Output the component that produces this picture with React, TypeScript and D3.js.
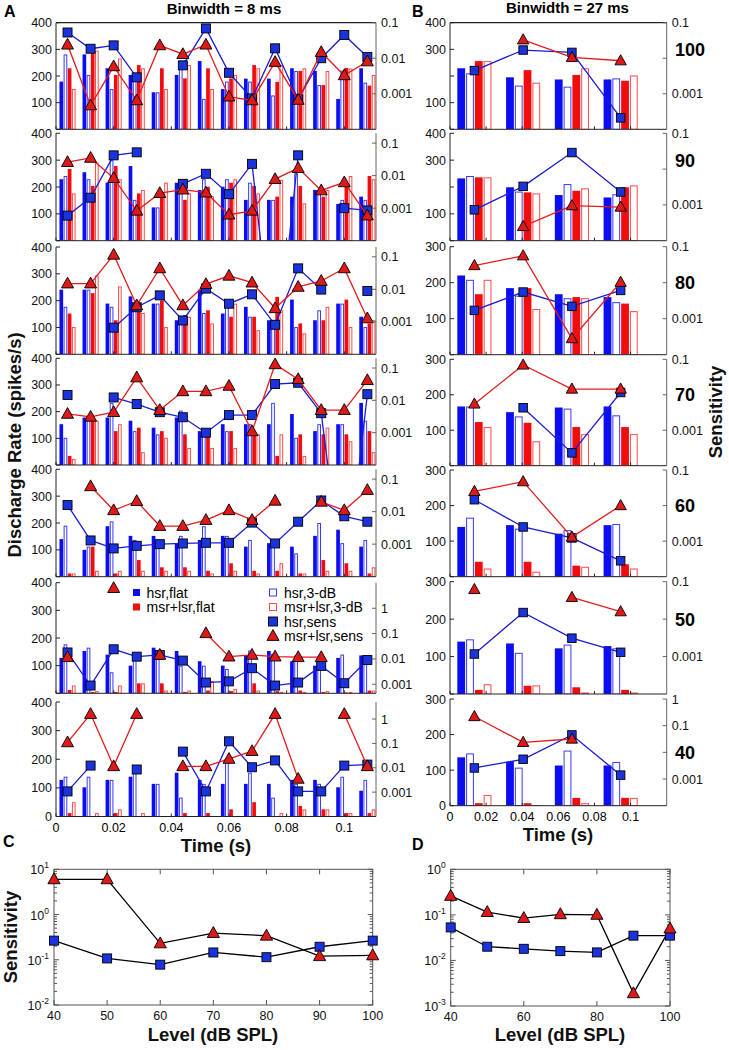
import React from "react";
import * as d3 from "d3";

const FONT = "'Liberation Sans', Arial, Helvetica, sans-serif";

// ---------------- data ----------------
const levels = ["100", "90", "80", "70", "60", "50", "40"];
const timeA = [0.004, 0.012, 0.02, 0.028, 0.036, 0.044, 0.052, 0.06, 0.068, 0.076, 0.084, 0.092, 0.1, 0.108];
const timeB = [0.0135, 0.0405, 0.0675, 0.0945];
const timeTickValues = [0, 0.02, 0.04, 0.06, 0.08, 0.1];
const timeTickLabels = ["0", "0.02", "0.04", "0.06", "0.08", "0.1"];

// Panel A (8 ms bins), rows = 100..40 dB
const aHsrFlat = [
  [179, 281, 229, 204, 139, 204, 256, 151, 190, 190, 229, 219, 114, 229],
  [229, 255, 216, 278, 124, 216, 189, 201, 152, 152, 164, 189, 137, 164],
  [241, 241, 189, 216, 189, 127, 241, 152, 177, 127, 204, 127, 189, 140],
  [153, 178, 178, 166, 140, 178, 127, 153, 153, 153, 191, 127, 153, 233],
  [140, 100, 188, 152, 152, 125, 137, 152, 112, 125, 112, 152, 175, 112],
  [128, 153, 140, 100, 165, 153, 116, 100, 137, 153, 116, 100, 128, 137],
  [128, 102, 128, 139, 114, 153, 128, 114, 114, 114, 128, 128, 102, 90],
];
const aHsr3dB = [
  [281, 204, 151, 204, 139, 240, 114, 179, 179, 127, 219, 166, 220, 175],
  [241, 229, 300, 152, 124, 216, 229, 229, 216, 152, 251, 189, 152, 152],
  [177, 241, 177, 177, 189, 127, 154, 177, 140, 127, 102, 164, 189, 102],
  [102, 178, 233, 127, 115, 204, 127, 127, 153, 233, 102, 153, 153, 166],
  [190, 112, 206, 137, 125, 152, 188, 152, 137, 125, 87, 200, 125, 137],
  [177, 165, 76, 137, 137, 100, 100, 88, 155, 143, 137, 116, 140, 137],
  [139, 139, 128, 162, 114, 66, 114, 203, 153, 66, 114, 114, 139, 128],
];
const aLsrFlat = [
  [229, 300, 204, 241, 229, 191, 229, 191, 241, 178, 219, 166, 230, 164],
  [267, 204, 278, 176, 176, 152, 201, 216, 204, 164, 204, 164, 204, 241],
  [152, 228, 127, 158, 201, 146, 164, 140, 140, 214, 115, 127, 204, 115],
  [34, 166, 127, 140, 127, 115, 115, 127, 115, 34, 115, 115, 115, 127],
  [12, 112, 12, 62, 35, 35, 22, 50, 22, 22, 12, 62, 50, 12],
  [12, 5, 5, 36, 36, 5, 10, 8, 36, 8, 10, 5, 3, 10],
  [12, 0, 12, 0, 0, 12, 12, 25, 50, 0, 37, 25, 12, 12],
];
const aLsr3dB = [
  [151, 295, 266, 229, 151, 241, 151, 204, 229, 241, 229, 219, 228, 204],
  [176, 291, 229, 189, 216, 176, 166, 229, 176, 226, 139, 189, 241, 229],
  [102, 294, 253, 154, 102, 140, 115, 189, 90, 164, 78, 177, 102, 127],
  [22, 166, 153, 48, 102, 64, 64, 64, 115, 115, 34, 140, 89, 48],
  [12, 22, 22, 22, 22, 22, 12, 22, 12, 50, 12, 22, 22, 35],
  [28, 8, 28, 36, 10, 10, 45, 15, 10, 5, 5, 8, 5, 10],
  [50, 12, 25, 12, 0, 0, 0, 0, 0, 12, 25, 25, 12, 25],
];
const aHsrSens = [
  [0.053, 0.0185, 0.023, 0.0029, null, 0.0063, 0.069, 0.0039, 0.00074, 0.019, 0.0007, 0.01, 0.045, 0.0108],
  [0.00059, 0.0021, 0.042, 0.052, null, 0.0056, 0.0114, 0.0027, 0.023, 1e-8, 0.042, null, 0.001, 0.00085],
  [null, null, 0.00066, 0.0028, 0.0065, 0.0011, 0.0105, 0.0036, 0.007, 0.00081, 0.044, 0.0098, null, 0.0089],
  [0.0147, null, 0.0123, 0.0077, 0.0043, 0.003, 0.001, 0.0035, 0.0035, 0.032, 0.035, 0.004, 1e-8, 0.0155],
  [0.0159, 0.0013, 0.00074, 0.00089, 0.001, 0.00105, 0.0011, 0.0011, 0.0046, 0.00105, 0.0049, 0.022, 0.0072, 0.0049],
  [0.018, 0.00089, 0.024, 0.0123, 0.0144, 0.0086, 0.00117, 0.0013, 0.0043, 0.00089, 0.00117, 0.0053, 0.0011, 0.0091],
  [0.00107, 0.0123, null, 0.0085, null, 0.046, 0.00107, 0.122, 0.0105, 0.02, 0.00107, 0.00107, 0.0123, 0.0135],
];
const aLsrSens = [
  [0.024, 0.00047, 0.0059, 0.00065, 0.023, 0.013, 0.024, 0.00083, 0.00065, 0.0078, 0.00067, 0.0148, 0.0033, 0.0081],
  [0.026, 0.035, 0.0084, 0.00083, 0.0029, 0.0037, 0.003, 0.00063, 0.00083, 0.0078, 0.017, 0.0035, 0.0062, 0.00059],
  [0.015, 0.015, 0.115, 0.0032, 0.044, 0.0032, 0.0144, 0.026, 0.016, 0.0026, 0.0118, 0.018, 0.044, 0.00127],
  [0.0038, 0.0031, 0.0043, 0.051, 0.005, 0.019, 0.019, 0.028, 0.0011, 0.13, 0.045, 0.005, 0.005, 0.042],
  [null, 0.06, 0.011, 0.021, 0.0036, 0.0036, 0.0055, 0.011, 0.0055, 0.0215, null, 0.02, 0.011, 0.046],
  [0.0117, null, 6.2, null, 0.0144, null, 0.103, 0.0123, 0.0144, 0.0123, 0.0117, 0.0117, null, null],
  [0.11, 1.6, 0.0115, 1.6, null, 0.0115, 0.0115, 0.023, 0.048, 1.6, 0.0035, null, 1.6, 0.0115],
];

// Panel B (27 ms bins)
const bHsrFlat = [
  [229, 195, 187, 187], [232, 199, 170, 161], [220, 185, 168, 160], [167, 151, 164, 167],
  [140, 145, 121, 145], [140, 135, 122, 128], [136, 124, 113, 113],
];
const bHsr3dB = [
  [210, 164, 160, 191], [241, 183, 211, 173], [208, 164, 157, 146], [167, 139, 161, 142],
  [166, 135, 131, 148], [146, 110, 132, 122], [147, 107, 155, 123],
];
const bLsrFlat = [
  [256, 222, 204, 182], [236, 180, 186, 199], [168, 185, 160, 142], [123, 121, 109, 109],
  [42, 42, 31, 35], [11, 22, 18, 11], [7, 7, 22, 22],
];
const bLsr3dB = [
  [256, 175, 229, 202], [236, 176, 195, 206], [208, 127, 157, 121], [109, 69, 89, 89],
  [23, 14, 28, 23], [26, 23, 4, 4], [30, 2, 7, 22],
];
const bHsrSens = [
  [0.0045, 0.017, 0.0146, 0.00021], [0.00073, 0.0033, 0.029, 0.0023], [0.0017, 0.0055, 0.0022, 0.0061],
  [null, 0.0043, 0.00023, 0.0116], [0.0146, 0.0025, 0.00123, 0.00028], [0.00117, 0.015, 0.0031, 0.0013],
  [0.0026, 0.0055, 0.045, 0.0014],
];
const bLsrSens = [
  [null, 0.033, 0.0105, 0.0085], [null, 0.00025, 0.00095, 0.00087], [0.03, 0.056, 0.00028, 0.0103],
  [0.0055, 0.069, 0.0145, 0.0145], [0.025, 0.047, 0.0013, 0.01], [0.062, null, 0.038, 0.0158],
  [0.22, 0.0237, 0.0316, null],
];

// Panels C, D
const levelAxis = [40, 50, 60, 70, 80, 90, 100];
const cHsr = [0.265, 0.107, 0.078, 0.145, 0.114, 0.194, 0.265];
const cLsr = [6.0, 6.0, 0.23, 0.39, 0.34, 0.12, 0.125];
const dHsr = [0.053, 0.02, 0.018, 0.016, 0.015, 0.035, 0.035];
const dLsr = [0.26, 0.115, 0.085, 0.103, 0.1, 0.0019, 0.05];
const cXTicks = [40, 50, 60, 70, 80, 90, 100];
const dXTicks = [40, 60, 80, 100];
const cYExp = [1, 0, -1, -2];
const dYExp = [0, -1, -2, -3];

// axis configuration
const aLeftLabels = [[400, 300, 200, 100], [400, 300, 200, 100], [400, 300, 200, 100], [400, 300, 200, 100], [400, 300, 200, 100], [400, 300, 200, 100], [400, 300, 200, 100, 0]];
const aRightDomains = [[1e-4, 0.1], [1e-4, 0.2], [1e-4, 0.2], [1e-4, 0.2], [1e-4, 0.2], [4.4e-4, 10.2], [1e-4, 5]];
const aRightLabels = [[0.1, 0.01, 0.001], [0.1, 0.01, 0.001], [0.1, 0.01, 0.001], [0.1, 0.01, 0.001], [0.1, 0.01, 0.001], [1, 0.1, 0.01, 0.001], [1, 0.1, 0.01, 0.001]];
const bLeftMax = [400, 400, 300, 300, 300, 300, 300];
const bLeftLabels = [[400, 300, 100], [400, 300, 100], [300, 200, 100], [300, 200, 100], [300, 200, 100], [300, 200, 100], [300, 200, 100, 0]];
const bRightDomains = [[1e-4, 0.1], [1e-4, 0.1], [1e-4, 0.1], [1e-4, 0.1], [1e-4, 0.1], [1e-4, 0.1], [1e-4, 1]];
const bRightLabels = [[0.1, 0.001], [0.1, 0.001], [0.1, 0.001], [0.1, 0.001], [0.1, 0.001], [0.1, 0.001], [1, 0.1, 0.001]];
const bRightTicks = [[0.1, 0.01, 0.001], [0.1, 0.01, 0.001], [0.1, 0.01, 0.001], [0.1, 0.01, 0.001], [0.1, 0.01, 0.001], [0.1, 0.01, 0.001], [1, 0.1, 0.01, 0.001]];
const levelLabelAt = [300, 300, 200, 200, 200, 200, 150];

// ---------------- layout ----------------
const aTop = [22.7, 133.3, 247, 358.3, 469.3, 582.7, 702];
const aBot = [129.3, 240.7, 354.3, 465, 576.7, 693.3, 816.5];
const bTop = [22.7, 133.3, 246.7, 359.3, 470, 581.7, 699];
const bBot = [129.3, 240.7, 354.7, 465.7, 576.7, 694, 805.7];

const BLUE = "#0d0df2";
const RED = "#f20d0d";
const BLUE_EDGE = "#3a3aff";
const RED_EDGE = "#ff4a4a";
const LINE_BLUE = "#1c1cd4";
const LINE_RED = "#e41c1c";
const SQ_FILL = "#1a33dc";
const TRI_FILL = "#dc1a1a";
const AX = "#222";
const AX_R = "#666";
const TICK_FS = 12.5;

function triPath(cx: number, cy: number, s: number) {
  return `M${cx},${cy - s * 0.62}L${cx + s * 0.58},${cy + s * 0.42}L${cx - s * 0.58},${cy + s * 0.42}Z`;
}

type PanelProps = {
  id: string;
  x: any;
  top: number;
  bot: number;
  leftMax: number;
  leftLabels: number[];
  rightDomain: number[];
  rightLabels: number[];
  rightTicks: number[];
  times: number[];
  bin: number;
  bars: number[][];
  hsr: (number | null)[];
  lsr: (number | null)[];
  drawTop: boolean;
  msize: number;
};

function Panel(p: PanelProps) {
  const x = p.x;
  const [x0, x1] = x.range();
  const yL = d3.scaleLinear().domain([0, p.leftMax]).range([p.bot, p.top]);
  const yR = d3.scaleLog().domain(p.rightDomain).range([p.bot, p.top]);
  const sp = p.bin * 0.18;
  const bwPx = x(p.bin * 0.16) - x(0);
  const clipId = `clip-${p.id}`;
  const inDom = (v: number | null) => v != null && v >= p.rightDomain[0] * 0.999 && v <= p.rightDomain[1] * 1.001;
  const mkLine = (vals: (number | null)[]) =>
    d3.line<number | null>()
      .defined((v) => v != null)
      .x((_, i) => x(p.times[i]))
      .y((v) => yR(v as number))(vals) || "";
  const offs = [-1.5, -0.5, 0.5, 1.5];
  const leftTickVals = d3.range(0, p.leftMax + 1, 100);
  const s = p.msize;
  return (
    <g>
      <defs>
        <clipPath id={clipId}>
          <rect x={x0} y={p.top} width={x1 - x0} height={p.bot - p.top} />
        </clipPath>
      </defs>
      <g clipPath={`url(#${clipId})`}>
        {p.times.map((t, i) =>
          p.bars.map((ser, k) => {
            const v = ser[i];
            if (!v || v <= 0) return null;
            const cx = x(t + offs[k] * sp);
            const y = yL(v);
            const h = p.bot - y;
            if (k === 0 || k === 2) {
              return <rect key={`${i}-${k}`} x={cx - bwPx / 2} y={y} width={bwPx} height={h} fill={k === 0 ? BLUE : RED} />;
            }
            return (
              <rect key={`${i}-${k}`} x={cx - bwPx / 2 + 0.5} y={y + 0.5} width={Math.max(bwPx - 1, 0.5)} height={Math.max(h - 0.5, 0)}
                fill="#fff" stroke={k === 1 ? BLUE_EDGE : RED_EDGE} strokeWidth={1} />
            );
          })
        )}
        <path d={mkLine(p.hsr)} fill="none" stroke={LINE_BLUE} strokeWidth={1.3} />
      </g>
      {p.hsr.map((v, i) =>
        inDom(v) ? (
          <rect key={`sq${i}`} x={x(p.times[i]) - s / 2} y={yR(v as number) - s / 2} width={s} height={s} fill={SQ_FILL} stroke="#000" strokeWidth={0.9} />
        ) : null
      )}
      <g clipPath={`url(#${clipId})`}>
        <path d={mkLine(p.lsr)} fill="none" stroke={LINE_RED} strokeWidth={1.3} />
      </g>
      {p.lsr.map((v, i) =>
        inDom(v) ? (
          <path key={`tr${i}`} d={triPath(x(p.times[i]), yR(v as number), s * 1.15)} fill={TRI_FILL} stroke="#000" strokeWidth={0.9} />
        ) : null
      )}
      {/* axes */}
      <line x1={x0} x2={x1} y1={p.bot} y2={p.bot} stroke={AX} strokeWidth={1} />
      <line x1={x0} x2={x0} y1={p.top} y2={p.bot} stroke={AX} strokeWidth={1} />
      <line x1={x1} x2={x1} y1={p.top} y2={p.bot} stroke={AX_R} strokeWidth={1} />
      {p.drawTop ? <line x1={x0} x2={x1} y1={p.top} y2={p.top} stroke={AX} strokeWidth={1.2} /> : null}
      {leftTickVals.map((v) => (
        <line key={`lt${v}`} x1={x0} x2={x0 + 4} y1={yL(v)} y2={yL(v)} stroke={AX} strokeWidth={1} />
      ))}
      {p.leftLabels.map((v) => (
        <text key={`ll${v}`} x={x0 - 4} y={yL(v)} dy="0.36em" textAnchor="end" fontSize={TICK_FS} fill="#111">{v}</text>
      ))}
      {p.rightTicks.map((v) => (
        <line key={`rt${v}`} x1={x1 - 4} x2={x1} y1={yR(v)} y2={yR(v)} stroke={AX_R} strokeWidth={1} />
      ))}
      {p.rightLabels.map((v) => (
        <text key={`rl${v}`} x={x1 + 5} y={yR(v)} dy="0.36em" textAnchor="start" fontSize={TICK_FS} fill="#111">{String(v)}</text>
      ))}
      {timeTickValues.map((t) => (
        <line key={`xt${t}`} x1={x(t)} x2={x(t)} y1={p.bot} y2={p.bot - 3} stroke={AX} strokeWidth={1} />
      ))}
    </g>
  );
}

function LevelPanel(props: {
  x: any; y: any; xTicks: number[]; yExp: number[]; hsr: number[]; lsr: number[];
}) {
  const { x, y } = props;
  const [x0, x1] = x.range();
  const [yb, yt] = y.range();
  const allTicks: number[] = y.ticks();
  const isMajor = (v: number) => Math.abs(Math.log10(v) - Math.round(Math.log10(v))) < 1e-6;
  const line = d3.line<number>().x((_, i) => x(levelAxis[i])).y((v) => y(v));
  return (
    <g>
      <rect x={x0} y={yt} width={x1 - x0} height={yb - yt} fill="#fff" stroke="#555" strokeWidth={1} />
      {allTicks.map((v, i) => {
        const len = isMajor(v) ? 5 : 3;
        return (
          <g key={`yt${i}`}>
            <line x1={x0} x2={x0 + len} y1={y(v)} y2={y(v)} stroke="#555" />
            <line x1={x1 - len} x2={x1} y1={y(v)} y2={y(v)} stroke="#555" />
          </g>
        );
      })}
      {props.xTicks.map((t) => (
        <g key={`xt${t}`}>
          <line x1={x(t)} x2={x(t)} y1={yb} y2={yb - 5} stroke="#555" />
          <line x1={x(t)} x2={x(t)} y1={yt} y2={yt + 5} stroke="#555" />
          <text x={x(t)} y={yb + 14.5} textAnchor="middle" fontSize={TICK_FS} fill="#111">{t}</text>
        </g>
      ))}
      {props.yExp.map((e) => (
        <text key={`ye${e}`} x={x0 - 5} y={y(Math.pow(10, e)) + 5} textAnchor="end" fontSize={TICK_FS} fill="#111">
          10<tspan dy={-6} fontSize={8.5}>{String(e)}</tspan>
        </text>
      ))}
      <path d={line(props.hsr) || ""} fill="none" stroke="#000" strokeWidth={1.3} />
      <path d={line(props.lsr) || ""} fill="none" stroke="#000" strokeWidth={1.3} />
      {props.hsr.map((v, i) => (
        <rect key={`s${i}`} x={x(levelAxis[i]) - 4.5} y={y(v) - 4.5} width={9} height={9} fill={SQ_FILL} stroke="#000" strokeWidth={0.9} />
      ))}
      {props.lsr.map((v, i) => (
        <path key={`t${i}`} d={triPath(x(levelAxis[i]), y(v), 10.5)} fill={TRI_FILL} stroke="#000" strokeWidth={0.9} />
      ))}
    </g>
  );
}

const legendLeft = ["hsr,flat", "msr+lsr,flat"];
const legendRight = ["hsr,3-dB", "msr+lsr,3-dB", "hsr,sens", "msr+lsr,sens"];

export default function App() {
  const xA = d3.scaleLinear().domain([0, 0.111]).range([56, 376]);
  const xB = d3.scaleLinear().domain([0, 0.12]).range([450, 666.7]);
  const xC = d3.scaleLinear().domain([40, 100]).range([54, 372.7]);
  const yC = d3.scaleLog().domain([0.01, 10]).range([1005, 869.3]);
  const xD = d3.scaleLinear().domain([40, 100]).range([450.7, 670]);
  const yD = d3.scaleLog().domain([0.001, 1]).range([1006, 869.3]);

  const axisLabel = { fontSize: 18.5, fontWeight: 700 as const, fill: "#111" };
  const LG = 14.5;

  return (
    <svg width={729} height={1050} style={{ position: "absolute", left: 0, top: 0, background: "#fff" }} fontFamily={FONT}>
      <rect x={0} y={0} width={729} height={1050} fill="#fff" />
      <text x={4} y={17} fontSize={16} fontWeight={700}>A</text>
      <text x={412} y={17} fontSize={16} fontWeight={700}>B</text>
      <text x={224} y={13.5} fontSize={15} fontWeight={700} textAnchor="middle">Binwidth = 8 ms</text>
      <text x={567.5} y={13} fontSize={15} fontWeight={700} textAnchor="middle">Binwidth = 27 ms</text>

      {levels.map((lv, r) => (
        <Panel key={`A${r}`} id={`A${r}`} x={xA} top={aTop[r]} bot={aBot[r]} leftMax={400}
          leftLabels={aLeftLabels[r]} rightDomain={aRightDomains[r]} rightLabels={aRightLabels[r]} rightTicks={aRightLabels[r]}
          times={timeA} bin={0.008}
          bars={[aHsrFlat[r], aHsr3dB[r], aLsrFlat[r], aLsr3dB[r]]}
          hsr={aHsrSens[r]} lsr={aLsrSens[r]} drawTop={r === 0} msize={9} />
      ))}
      {levels.map((lv, r) => {
        const yL = d3.scaleLinear().domain([0, bLeftMax[r]]).range([bBot[r], bTop[r]]);
        return (
          <g key={`B${r}`}>
            <Panel id={`B${r}`} x={xB} top={bTop[r]} bot={bBot[r]} leftMax={bLeftMax[r]}
              leftLabels={bLeftLabels[r]} rightDomain={bRightDomains[r]} rightLabels={bRightLabels[r]} rightTicks={bRightTicks[r]}
              times={timeB} bin={0.027}
              bars={[bHsrFlat[r], bHsr3dB[r], bLsrFlat[r], bLsr3dB[r]]}
              hsr={bHsrSens[r]} lsr={bLsrSens[r]} drawTop={r === 0} msize={8.5} />
            <text x={675} y={yL(levelLabelAt[r])} dy="0.36em" fontSize={18} fontWeight={700}>{lv}</text>
          </g>
        );
      })}

      {/* x tick labels */}
      {timeTickValues.map((t, i) => (
        <text key={`axl${i}`} x={xA(t)} y={832} textAnchor="middle" fontSize={TICK_FS}>{timeTickLabels[i]}</text>
      ))}
      {timeTickValues.map((t, i) => (
        <text key={`bxl${i}`} x={xB(t)} y={821} textAnchor="middle" fontSize={TICK_FS}>{timeTickLabels[i]}</text>
      ))}
      <text x={216} y={852} textAnchor="middle" {...axisLabel}>Time (s)</text>
      <text x={558} y={841} textAnchor="middle" {...axisLabel}>Time (s)</text>
      <text transform="translate(21,445) rotate(-90)" textAnchor="middle" {...axisLabel}>Discharge Rate (spikes/s)</text>
      <text transform="translate(722,412) rotate(-90)" textAnchor="middle" {...axisLabel}>Sensitivity</text>

      {/* legend */}
      {legendLeft.map((lab, i) => (
        <g key={`lgl${i}`}>
          <rect x={133} y={592.5 + i * LG - 3.5} width={7} height={7} fill={i === 0 ? BLUE : RED} />
          <text x={146.5} y={592.5 + i * LG} dy="0.36em" fontSize={14}>{lab}</text>
        </g>
      ))}
      {legendRight.map((lab, i) => {
        const cy = 592.5 + i * LG;
        let mk;
        if (i === 0) mk = <rect x={269.5} y={cy - 3.5} width={7} height={7} fill="#fff" stroke={BLUE_EDGE} />;
        else if (i === 1) mk = <rect x={269.5} y={cy - 3.5} width={7} height={7} fill="#fff" stroke={RED_EDGE} />;
        else if (i === 2) mk = <rect x={268.5} y={cy - 4.5} width={9} height={9} fill={SQ_FILL} stroke="#000" strokeWidth={0.9} />;
        else mk = <path d={triPath(273, cy, 10.5)} fill={TRI_FILL} stroke="#000" strokeWidth={0.9} />;
        return (
          <g key={`lgr${i}`}>
            {mk}
            <text x={284} y={cy} dy="0.36em" fontSize={14}>{lab}</text>
          </g>
        );
      })}

      {/* Panels C and D */}
      <text x={3} y={847} fontSize={16} fontWeight={700}>C</text>
      <text x={412} y={850} fontSize={16} fontWeight={700}>D</text>
      <LevelPanel x={xC} y={yC} xTicks={cXTicks} yExp={cYExp} hsr={cHsr} lsr={cLsr} />
      <LevelPanel x={xD} y={yD} xTicks={dXTicks} yExp={dYExp} hsr={dHsr} lsr={dLsr} />
      <text x={213} y={1041} textAnchor="middle" {...axisLabel}>Level (dB SPL)</text>
      <text x={560} y={1041} textAnchor="middle" {...axisLabel}>Level (dB SPL)</text>
      <text transform="translate(17,937) rotate(-90)" textAnchor="middle" {...axisLabel}>Sensitivity</text>
    </svg>
  );
}
